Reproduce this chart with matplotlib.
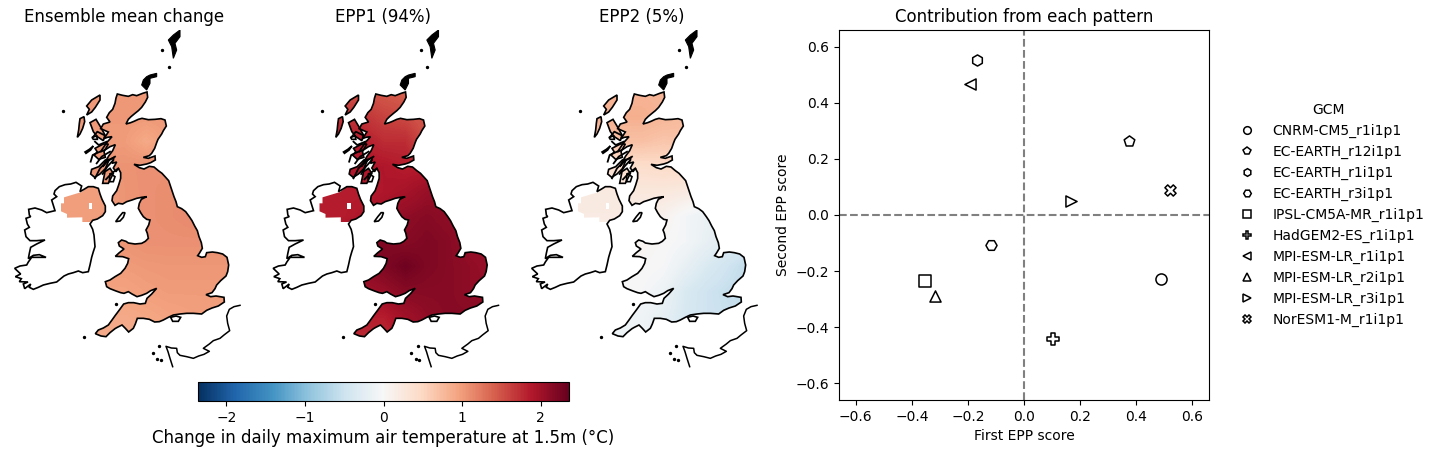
import numpy as np
import matplotlib
matplotlib.use("Agg")
import matplotlib.pyplot as plt
from matplotlib.path import Path
from matplotlib.patches import PathPatch, Polygon

# --- geography (map units) -------------------------------------------------
great_britain = [(352,222),(368,226),(385,229),(398,224),(410,227),(428,220),(441,216),(443,232),(436,246),(425,262),(415,272),(405,280),(393,290),(385,298),(378,312),(392,308),(402,304),(415,298),(426,295),(445,299),(465,298),(483,296),(495,300),(499,318),(490,332),(485,342),(474,358),(470,368),(464,385),(455,400),(448,407),(430,412),(445,415),(465,408),(466,420),(452,428),(440,432),(420,436),(402,433),(418,443),(432,447),(448,439),(462,441),(475,452),(486,460),(497,472),(506,482),(512,500),(516,512),(522,530),(528,545),(532,560),(545,566),(557,575),(568,590),(576,602),(584,618),(592,632),(597,650),(604,668),(607,685),(598,700),(593,707),(605,712),(616,710),(620,698),(637,696),(652,698),(668,702),(681,712),(686,735),(683,755),(678,768),(662,782),(650,795),(645,806),(636,818),(618,824),(632,830),(648,828),(672,832),(673,846),(655,858),(636,864),(620,871),(605,882),(580,880),(560,880),(540,882),(520,885),(505,892),(490,900),(478,905),(464,906),(448,898),(430,895),(412,895),(406,912),(400,925),(386,936),(376,925),(366,915),(352,922),(345,926),(330,938),(318,950),(303,948),(286,941),(295,930),(310,924),(325,915),(336,900),(346,886),(358,870),(371,852),(385,848),(401,848),(420,852),(436,850),(441,835),(455,822),(470,805),(452,812),(440,820),(425,826),(411,830),(396,822),(385,815),(372,820),(362,818),(348,813),(330,806),(320,800),(316,785),(330,780),(345,770),(362,760),(375,745),(383,730),(386,716),(368,710),(346,709),(358,698),(372,687),(358,678),(355,668),(365,660),(378,664),(385,669),(405,672),(425,670),(436,664),(445,655),(442,640),(438,630),(446,615),(450,600),(440,598),(430,590),(422,578),(415,565),(418,550),(424,538),(440,530),(425,532),(410,535),(396,540),(380,545),(368,552),(355,550),(345,556),(336,542),(338,528),(350,512),(356,495),(362,475),(362,458),(355,445),(348,455),(340,444),(350,426),(336,430),(342,412),(326,420),(308,440),(318,422),(326,408),(338,392),(346,374),(330,380),(318,388),(301,396),(312,380),(320,368),(336,350),(322,352),(312,356),(325,336),(302,326),(310,312),(330,306),(320,292),(328,278),(338,268),(345,250),(348,234)]
ireland = [(165,512),(178,500),(195,494),(212,492),(228,487),(245,498),(240,515),(252,508),(265,500),(280,500),(295,505),(300,522),(306,538),(316,558),(316,575),(308,587),(292,597),(278,601),(270,612),(278,628),(282,645),(285,680),(280,695),(275,712),(270,735),(265,755),(248,758),(235,753),(220,758),(205,762),(192,768),(170,786),(150,790),(130,795),(115,802),(100,808),(88,802),(92,792),(74,806),(70,792),(84,786),(58,785),(64,776),(46,770),(62,762),(44,745),(60,738),(80,735),(85,726),(95,712),(138,712),(118,704),(100,706),(85,716),(88,700),(92,682),(110,672),(135,660),(110,662),(90,662),(78,650),(74,630),(88,622),(82,612),(78,595),(92,590),(88,585),(86,568),(105,564),(125,570),(140,578),(165,572),(155,540),(170,530),(162,522)]
northern_ireland = [(192,532),(245,516),(265,500),(280,500),(295,505),(300,522),(306,538),(316,558),(316,575),(308,587),(292,597),(278,601),(270,606),(247,606),(247,592),(201,593),(201,582),(183,574),(183,550),(192,550)]
ni_gap = [(266,550),(266,568),(276,568),(276,550)]
france = [(720,856),(702,860),(688,868),(680,888),(683,910),(689,932),(672,945),(660,955),(640,962),(628,972),(610,985),(628,994),(612,1003),(596,1008),(580,1015),(560,1010),(540,1006),(532,998),(530,985),(514,984),(498,979),(504,995),(510,1015),(518,1040)]

lewis = [(260,258),(275,240),(300,225),(300,240),(286,262),(275,276),(260,285),(268,268)]
uist = [(240,296),(252,290),(254,305),(248,325),(240,342),(232,352),(236,330),(238,310)]
skye = [(270,308),(288,298),(300,318),(315,345),(310,362),(292,350),(280,335)]
mull = [(285,385),(310,372),(325,372),(312,395),(316,412),(296,418),(282,405),(292,396)]
jura = [(275,448),(296,440),(316,420),(328,418),(316,446),(300,462),(284,472),(272,462)]
kintyre = [(308,490),(315,455),(330,445),(340,460),(325,490)]
arran = [(330,460),(345,470),(340,485),(328,485)]
tiree = [(255,396),(268,388),(280,378),(272,390),(258,400)]
small_isle = [(276,352),(290,348),(292,358),(280,358)]
man = [(347,605),(358,590),(368,578),(375,578),(370,592),(360,603)]
wight = [(512,892),(528,888),(542,892),(535,904),(518,904)]
orkney = [(470,160),(450,165),(440,170),(430,180),(425,195),(440,210),(450,190),(450,175),(470,170)]
shetland = [(540,30),(520,45),(505,60),(515,80),(520,115),(530,90),(525,70),(540,50)]
sea_lochs = [[(345,410),(320,425),(300,445),(285,475)],[(340,420),(322,440),(308,462)],[(355,445),(335,460),(318,478)],
             [(330,395),(305,410),(290,430)],[(320,365),(296,375),(285,365)],[(312,345),(292,335),(280,350)],
             [(300,395),(278,405),(272,425)]]
dots = [(190,273),(486,90),(506,142),(252,952),(348,852),(478,978),(458,998),(482,1020),(472,1016)]

field_clip = [great_britain, northern_ireland, lewis, uist, skye, mull, jura, kintyre]
islands = [lewis, uist, skye, mull, jura, kintyre, arran, tiree, small_isle, man, wight]
black_islands = [orkney, shetland]

field_x = [180,245,310,375,440,505,570,635,700]
field_y = [215,290,365,440,515,590,665,740,815,890,965]

ensemble_mean = [
 [1.02,1.02,1.02,1.02,1.02,1.02,1.02,1.02,1.02],
 [1.02,1.02,1.02,1.02,1.02,1.03,1.03,1.03,1.03],
 [1.00,1.00,1.00,1.00,0.90,1.00,1.02,1.02,1.02],
 [1.05,1.05,1.05,1.06,1.08,1.08,1.10,1.10,1.10],
 [0.98,0.98,0.98,1.05,1.08,1.10,1.12,1.12,1.12],
 [0.98,0.98,1.00,1.05,1.08,1.10,1.13,1.15,1.15],
 [1.05,1.05,1.05,1.05,1.08,1.08,1.08,1.08,1.08],
 [1.00,1.00,1.00,1.00,1.02,1.03,1.03,1.03,1.03],
 [0.95,0.95,0.95,0.95,0.98,1.00,1.00,1.00,1.00],
 [0.90,0.90,0.90,0.90,0.92,0.95,0.97,0.98,0.98],
 [0.88,0.88,0.88,0.88,0.90,0.93,0.95,0.96,0.96]]
epp1 = [
 [1.50,1.50,1.50,1.45,1.40,1.40,1.40,1.40,1.40],
 [1.70,1.70,1.70,1.60,1.55,1.45,1.40,1.40,1.40],
 [1.85,1.85,1.85,1.75,1.75,1.50,1.40,1.40,1.40],
 [1.90,1.90,1.90,1.90,1.85,1.85,1.85,1.85,1.85],
 [1.85,1.85,1.85,1.90,1.95,2.05,2.05,2.05,2.05],
 [1.85,1.85,1.90,2.00,2.10,2.15,2.10,2.10,2.10],
 [2.00,2.00,2.10,2.20,2.15,2.20,2.15,2.05,2.05],
 [2.10,2.10,2.10,2.20,2.30,2.20,2.15,2.10,2.05],
 [2.00,2.00,2.00,2.05,2.15,2.15,2.15,2.10,2.10],
 [1.85,1.85,1.85,1.85,2.00,2.10,2.15,2.15,2.15],
 [1.75,1.75,1.75,1.75,1.90,2.05,2.10,2.10,2.10]]
epp2 = [
 [0.80,0.80,0.80,0.80,0.80,0.80,0.80,0.80,0.80],
 [0.85,0.85,0.85,0.85,0.80,0.75,0.75,0.75,0.75],
 [0.70,0.70,0.70,0.70,0.65,0.68,0.75,0.80,0.80],
 [0.40,0.40,0.40,0.42,0.45,0.45,0.40,0.40,0.40],
 [0.22,0.22,0.22,0.25,0.25,0.22,0.15,0.10,0.10],
 [0.20,0.20,0.20,0.15,0.10,-0.05,-0.15,-0.20,-0.25],
 [0.05,0.05,0.05,0.05,0.02,-0.05,-0.18,-0.30,-0.40],
 [0.03,0.03,0.03,0.03,-0.02,-0.18,-0.35,-0.48,-0.60],
 [-0.02,-0.02,-0.02,-0.02,-0.12,-0.35,-0.48,-0.55,-0.60],
 [-0.10,-0.10,-0.10,-0.10,-0.20,-0.38,-0.48,-0.52,-0.55],
 [-0.10,-0.10,-0.10,-0.10,-0.20,-0.38,-0.48,-0.52,-0.55]]

panel_titles = ["Ensemble mean change", "EPP1 (94%)", "EPP2 (5%)"]
panel_fields = [ensemble_mean, epp1, epp2]
color_limit = 2.36

# --- scatter ---------------------------------------------------------------
gcms = ["CNRM-CM5_r1i1p1","EC-EARTH_r12i1p1","EC-EARTH_r1i1p1","EC-EARTH_r3i1p1","IPSL-CM5A-MR_r1i1p1",
        "HadGEM2-ES_r1i1p1","MPI-ESM-LR_r1i1p1","MPI-ESM-LR_r2i1p1","MPI-ESM-LR_r3i1p1","NorESM1-M_r1i1p1"]
first_score  = [0.49,0.375,-0.168,-0.118,-0.354,0.104,-0.193,-0.318,0.168,0.521]
second_score = [-0.228,0.265,0.552,-0.107,-0.236,-0.443,0.468,-0.289,0.05,0.089]
markers = ["o","p","h","H","s","P","<","^",">","X"]

W, H = 1440, 454
fig = plt.figure(figsize=(W/100, H/100), dpi=100)

def axpx(x0, y0, x1, y1):
    return fig.add_axes([x0/W, 1-y1/H, (x1-x0)/W, (y1-y0)/H])

def make_path(polys):
    verts, codes = [], []
    for p in polys:
        verts += list(p) + [p[0]]
        codes += [Path.MOVETO] + [Path.LINETO]*(len(p)-1) + [Path.CLOSEPOLY]
    return Path(verts, codes)

cmap = plt.get_cmap("RdBu_r")
shifts = [0, 258.5, 517]
for title, field, dx in zip(panel_titles, panel_fields, shifts):
    ax = axpx(5+dx, 30, 244+dx, 372)
    ax.set_xlim(15, 732); ax.set_ylim(1056, 30)
    ax.axis("off")
    ax.set_title(title, fontsize=12, pad=6)
    im = ax.imshow(np.array(field), extent=(field_x[0]-32, field_x[-1]+32, field_y[-1]+37, field_y[0]-37),
                   cmap=cmap, vmin=-color_limit, vmax=color_limit, interpolation="bilinear", aspect="auto", zorder=1)
    ax.set_xlim(15, 732); ax.set_ylim(1056, 30)
    im.set_clip_path(PathPatch(make_path(field_clip), transform=ax.transData))
    ax.add_patch(Polygon(ni_gap, closed=True, fc="white", ec="none", zorder=2))
    for poly in [great_britain, ireland] + islands:
        ax.add_patch(Polygon(poly, closed=True, fc="none", ec="black", lw=1.2, zorder=3))
    for poly in black_islands:
        ax.add_patch(Polygon(poly, closed=True, fc="black", ec="black", lw=0.8, zorder=3))
    for line in sea_lochs:
        ax.plot(*zip(*line), color="black", lw=1.3, zorder=3)
    ax.plot(*zip(*france), color="black", lw=1.1, zorder=3)
    ax.scatter(*zip(*dots), s=2, color="black", zorder=3)

cax = axpx(198, 381.5, 569, 400.5)
sm = plt.cm.ScalarMappable(norm=plt.Normalize(-color_limit, color_limit), cmap=cmap)
cb = fig.colorbar(sm, cax=cax, orientation="horizontal", ticks=[-2,-1,0,1,2])
cb.ax.tick_params(pad=4.2)
cb.set_label("Change in daily maximum air temperature at 1.5m (°C)", fontsize=12, labelpad=2.6)

ax = axpx(839, 30, 1209, 400)
ax.axhline(0, color="gray", ls="--", lw=1.5, zorder=1)
ax.axvline(0, color="gray", ls="--", lw=1.5, zorder=1)
handles = []
for name, xv, yv, m in zip(gcms, first_score, second_score, markers):
    ax.scatter([xv], [yv], marker=m, s=64, facecolor="white", edgecolor="black", linewidth=1.1, zorder=3)
    h, = ax.plot([], [], ls="none", marker=m, ms=5.5, mfc="white", mec="black", mew=1.1, label=name)
    handles.append(h)
ax.set_xlim(-0.66, 0.66); ax.set_ylim(-0.66, 0.66)
ax.set_xticks([-0.6,-0.4,-0.2,0,0.2,0.4,0.6]); ax.set_yticks([-0.6,-0.4,-0.2,0,0.2,0.4,0.6])
ax.set_xlabel("First EPP score"); ax.set_ylabel("Second EPP score")
ax.set_title("Contribution from each pattern", fontsize=12, pad=6)
fig.legend(handles=handles, title="GCM", frameon=False, loc="center left",
           bbox_to_anchor=(1228/W, 1-215/H), borderaxespad=0, fontsize=10)

fig.savefig("out.png", dpi=100)
